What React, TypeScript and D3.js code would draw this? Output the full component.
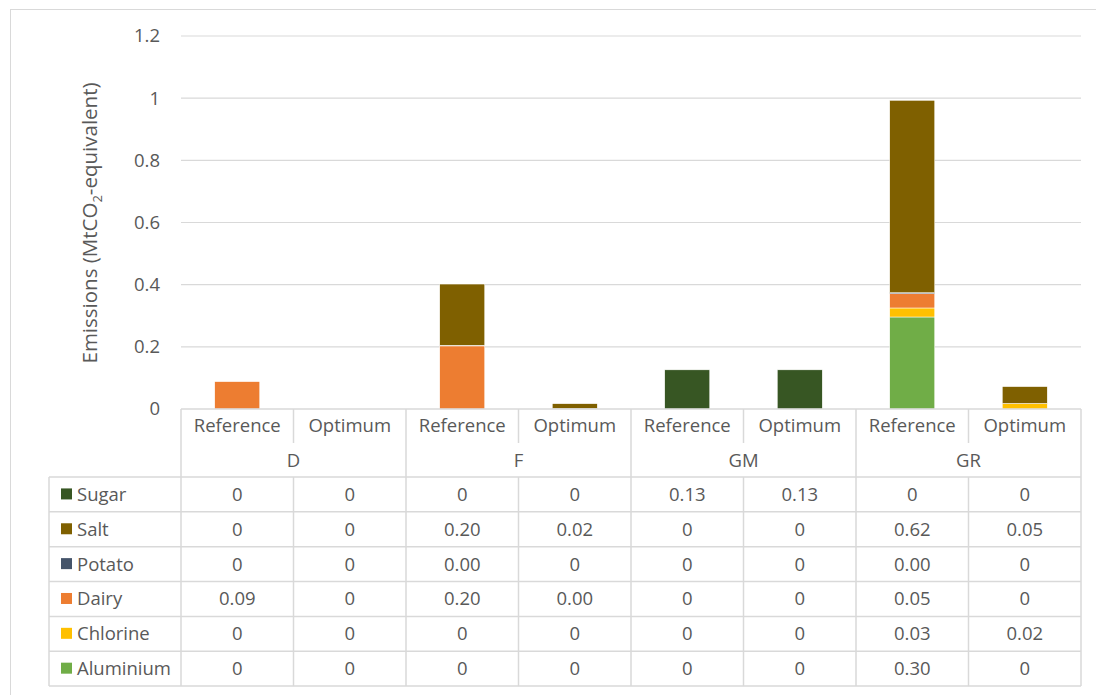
import React from "react";
import * as d3 from "d3";

const groups = ["D", "F", "GM", "GR"];
const scenarios = ["Reference", "Optimum"];
const seriesNames = ["Sugar", "Salt", "Potato", "Dairy", "Chlorine", "Aluminium"];
const seriesColors = ["#375623", "#7F6000", "#44546A", "#ED7D31", "#FFC000", "#70AD47"];
// values per column: D-Ref, D-Opt, F-Ref, F-Opt, GM-Ref, GM-Opt, GR-Ref, GR-Opt
const sugar = [0, 0, 0, 0, 0.126, 0.126, 0, 0];
const salt = [0, 0, 0.197, 0.016, 0, 0, 0.619, 0.054];
const potato = [0, 0, 0.002, 0, 0, 0, 0.003, 0];
const dairy = [0.088, 0, 0.203, 0.001, 0, 0, 0.046, 0];
const chlorine = [0, 0, 0, 0, 0, 0, 0.029, 0.018];
const aluminium = [0, 0, 0, 0, 0, 0, 0.296, 0];
const yTicks = [0, 0.2, 0.4, 0.6, 0.8, 1, 1.2];

const seriesValues = [sugar, salt, potato, dairy, chlorine, aluminium];
const FONT = "'Open Sans', 'Liberation Sans', sans-serif";
const TXT = "#595959";
const GRID = "#d9d9d9";

export default function App() {
  const cols = groups.flatMap((g) => scenarios.map((s) => `${g}|${s}`));
  const left = 181, right = 1081, top = 36, base = 409;
  const x = d3.scaleBand<string>().domain(cols).range([left, right]).paddingInner(0).paddingOuter(0);
  const y = d3.scaleLinear().domain([0, 1.2]).range([base, top]);
  const bw = x.bandwidth();
  const barW = bw * 0.4;

  const rows = cols.map((c, i) => {
    const o: any = { col: c };
    seriesNames.forEach((s, k) => (o[s] = seriesValues[k][i]));
    return o;
  });
  const stackKeys = [...seriesNames].reverse();
  const stacked = d3.stack<any>().keys(stackKeys)(rows);
  const colorOf = (s: string) => seriesColors[seriesNames.indexOf(s)];

  const headerTop = base, header1 = 443, header2 = 477, rowH = 34.85;
  const tableLeft = 49;
  const tableBottom = header2 + rowH * seriesNames.length;
  const fmt = (v: number) => (v === 0 ? "0" : v.toFixed(2));
  const FS = 18.5;

  return (
    <svg width={1096} height={695} style={{ position: "absolute", left: 0, top: 0, background: "#fff" }} fontFamily={FONT}>
      <rect x={10.5} y={9.5} width={1200} height={800} fill="#fff" stroke={GRID} strokeWidth={1} />
      {yTicks.map((t) => (
        <g key={t}>
          {t !== 0 && <line x1={left} x2={right} y1={y(t)} y2={y(t)} stroke={GRID} strokeWidth={1.2} />}
          <text x={160} y={y(t)} dy="0.35em" textAnchor="end" fontSize={FS} fill={TXT}>
            {d3.format("~g")(t)}
          </text>
        </g>
      ))}
      <text transform={`translate(97,${223}) rotate(-90)`} textAnchor="middle" fontSize={20.5} fill={TXT}>
        Emissions (MtCO<tspan fontSize={13} dy={5}>2</tspan>
        <tspan dy={-5}>-equivalent)</tspan>
      </text>
      {stacked.map((layer) => (
        <g key={layer.key} fill={colorOf(layer.key)}>
          {layer.map((d, i) =>
            d[1] - d[0] > 0 ? (
              <rect
                key={i}
                x={(x(cols[i]) as number) + (bw - barW) / 2}
                y={y(d[1])}
                width={barW}
                height={Math.max(0, y(d[0]) - y(d[1]))}
                stroke="#fff"
                strokeWidth={0.5}
              />
            ) : null
          )}
        </g>
      ))}
      <g stroke={GRID} strokeWidth={1.5} fill="none">
        <line x1={left} x2={right} y1={base} y2={base} />
        <line x1={tableLeft} x2={right} y1={header2} y2={header2} />
        {seriesNames.map((s, k) => (
          <line key={s} x1={tableLeft} x2={right} y1={header2 + rowH * (k + 1)} y2={header2 + rowH * (k + 1)} />
        ))}
        <line x1={tableLeft} x2={tableLeft} y1={header2} y2={tableBottom} />
        {cols.map((c, i) => {
          const xx = x(c) as number;
          if (i % 2 === 0) return <line key={c} x1={xx} x2={xx} y1={headerTop} y2={tableBottom} />;
          return (
            <g key={c}>
              <line x1={xx} x2={xx} y1={headerTop} y2={header1} />
              <line x1={xx} x2={xx} y1={header2} y2={tableBottom} />
            </g>
          );
        })}
        <line x1={right} x2={right} y1={headerTop} y2={tableBottom} />
      </g>
      {cols.map((c) => (
        <text key={c} x={(x(c) as number) + bw / 2} y={426} dy="0.35em" textAnchor="middle" fontSize={FS} fill={TXT}>
          {c.split("|")[1]}
        </text>
      ))}
      {groups.map((g) => (
        <text key={g} x={(x(`${g}|Reference`) as number) + bw} y={461} dy="0.35em" textAnchor="middle" fontSize={FS} fill={TXT}>
          {g}
        </text>
      ))}
      {seriesNames.map((s, k) => {
        const cy = header2 + rowH * k + rowH / 2;
        return (
          <g key={s}>
            <rect x={61} y={cy - 6} width={11} height={11} fill={seriesColors[k]} />
            <text x={77} y={cy} dy="0.35em" fontSize={FS} fill={TXT}>
              {s}
            </text>
            {cols.map((c, i) => (
              <text key={c} x={(x(c) as number) + bw / 2} y={cy} dy="0.35em" textAnchor="middle" fontSize={FS} fill={TXT}>
                {fmt(seriesValues[k][i])}
              </text>
            ))}
          </g>
        );
      })}
    </svg>
  );
}
